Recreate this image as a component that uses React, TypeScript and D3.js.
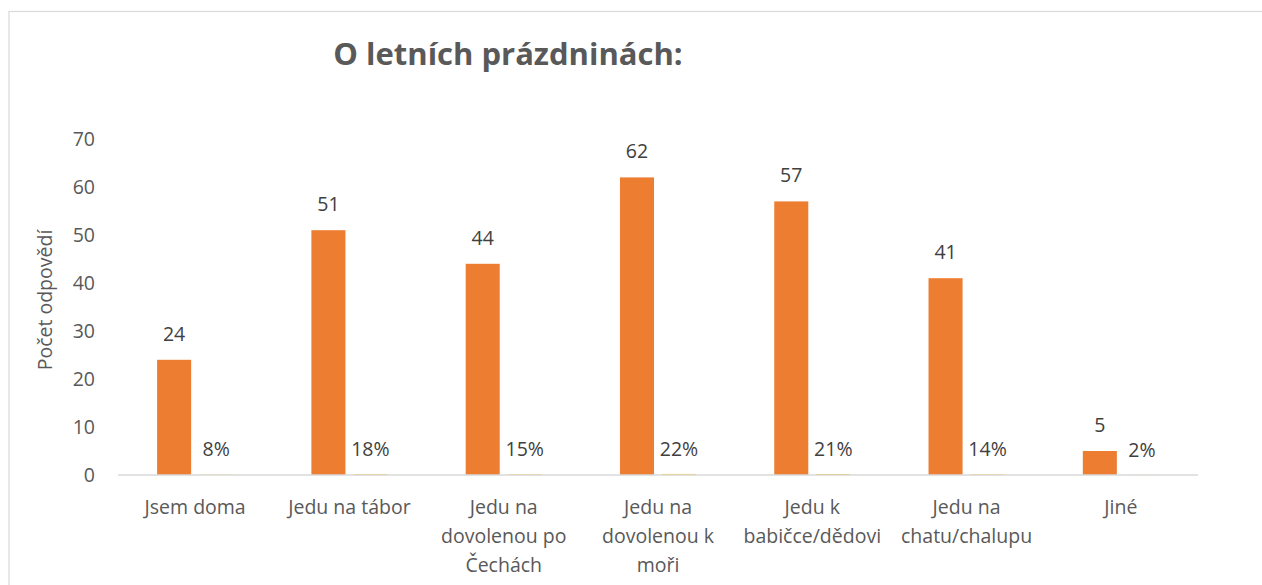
import React from "react";
import * as d3 from "d3";

const categories: string[][] = [
  ["Jsem doma"],
  ["Jedu na tábor"],
  ["Jedu na", "dovolenou po", "Čechách"],
  ["Jedu na", "dovolenou k", "moři"],
  ["Jedu k", "babičce/dědovi"],
  ["Jedu na", "chatu/chalupu"],
  ["Jiné"],
];
const counts: number[] = [24, 51, 44, 62, 57, 41, 5];
const shares: number[] = [0.08, 0.18, 0.15, 0.22, 0.21, 0.14, 0.02];
const yTicks: number[] = [0, 10, 20, 30, 40, 50, 60, 70];
const seriesKeys = ["count", "share"];

const FONT = "'Open Sans', 'Noto Sans', sans-serif";
const TEXT = "#595959";
const FS = 19.5;

export default function App() {
  const W = 1262, H = 585;
  const left = 118, right = 1198, y0 = 475, yTop = 139;
  const ids = categories.map((_, i) => String(i));
  const x0 = d3.scaleBand<string>().domain(ids).range([left, right]).paddingInner(0.507).paddingOuter(0.2535);
  const x1 = d3.scaleBand<string>().domain(seriesKeys).range([0, x0.bandwidth()]).paddingInner(0.19);
  const y = d3.scaleLinear().domain([0, 70]).range([y0, yTop]);

  return (
    <svg width={W} height={H} style={{ position: "absolute", left: 0, top: 0, background: "#fff" }} fontFamily={FONT}>
      <rect x={9} y={11.5} width={1400} height={800} fill="#fff" stroke="#d9d9d9" strokeWidth={1.2} />
      <text x={508} y={65} textAnchor="middle" fontSize={31} fontWeight={700} fill={TEXT}>
        O letních prázdninách:
      </text>
      <text transform={`translate(52,300) rotate(-90)`} textAnchor="middle" fontSize={FS} fill={TEXT}>
        Počet odpovědí
      </text>
      {yTicks.map((t) => (
        <text key={t} x={95} y={y(t)} dy="0.35em" textAnchor="end" fontSize={FS} fill={TEXT}>
          {t}
        </text>
      ))}
      {categories.map((c, i) => {
        const gx = x0(String(i))!;
        const bx = gx + x1("count")!;
        const px = gx + x1("share")!;
        const bw = x1.bandwidth();
        return (
          <g key={i}>
            <rect x={bx} y={y(counts[i])} width={bw} height={y0 - y(counts[i])} fill="#ED7D31" />
            <rect x={px} y={y(shares[i])} width={bw} height={y0 - y(shares[i])} fill="#FFC000" />
            <text x={bx + bw / 2} y={y(counts[i]) - 26} dy="0.35em" textAnchor="middle" fontSize={FS} fill="#404040">
              {counts[i]}
            </text>
            <text x={px + bw / 2} y={y(shares[i]) - 25} dy="0.35em" textAnchor="middle" fontSize={FS} fill="#404040">
              {Math.round(shares[i] * 100)}%
            </text>
            {c.map((line, j) => (
              <text key={j} x={gx + x0.bandwidth() / 2} y={507 + j * 29} dy="0.35em" textAnchor="middle" fontSize={FS} fill={TEXT}>
                {line}
              </text>
            ))}
          </g>
        );
      })}
      <line x1={left} x2={right} y1={y0} y2={y0} stroke="#d9d9d9" strokeWidth={1.5} />
    </svg>
  );
}
